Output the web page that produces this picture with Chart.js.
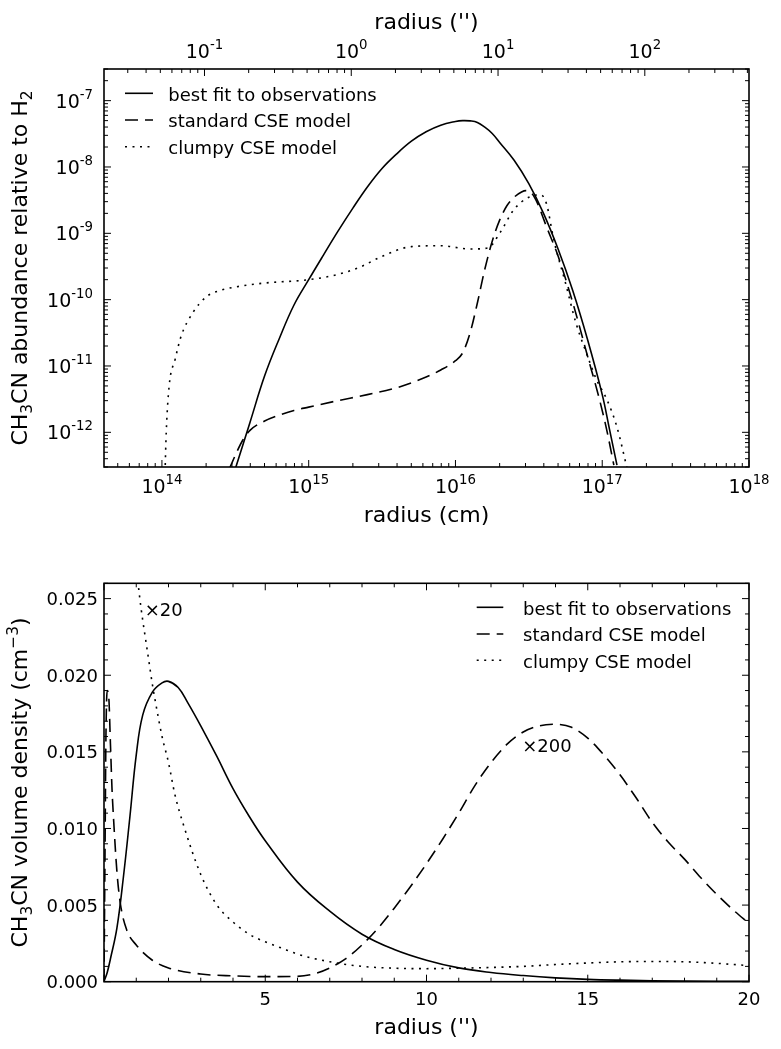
<!DOCTYPE html>
<html><head><meta charset="utf-8">
<script src="https://cdn.jsdelivr.net/npm/chart.js@4.4.1/dist/chart.umd.min.js"></script>
<style>
html,body{margin:0;padding:0;background:#fff;}
#wrap{position:relative;width:781px;height:1049px;background:#fff;}
canvas{position:absolute;left:0;}
</style></head><body>
<div id="wrap">
<canvas id="c1" width="781" height="540" style="top:0px"></canvas>
<canvas id="c2" width="781" height="509" style="top:540px"></canvas>
</div>
<script>
// ---------------- DATA ----------------
// Top panel: CH3CN abundance relative to H2 vs radius (cm)
const fitRadiusCm = [3.16e14, 3.98e14, 5.01e14, 6.31e14, 7.94e14, 1e15, 1.26e15, 1.58e15, 2.0e15, 2.51e15, 3.16e15, 3.98e15, 5.01e15, 6.31e15, 7.94e15, 1e16, 1.12e16, 1.26e16, 1.41e16, 1.58e16, 1.78e16, 2.0e16, 2.51e16, 3.16e16, 3.98e16, 5.01e16, 6.31e16, 7.94e16, 1e17, 1.12e17, 1.26e17];
const fitAbundance = [2.8e-13, 1.41e-12, 7.1e-12, 2.6e-11, 8.3e-11, 2.0e-10, 4.7e-10, 1.07e-9, 2.4e-9, 5.0e-9, 9.5e-9, 1.58e-8, 2.45e-8, 3.4e-8, 4.27e-8, 4.85e-8, 5.0e-8, 4.95e-8, 4.7e-8, 4.0e-8, 3.2e-8, 2.34e-8, 1.26e-8, 5.6e-9, 2.0e-9, 5.75e-10, 1.35e-10, 2.5e-11, 3.7e-12, 1.12e-12, 3.2e-13];

const stdRadiusCm = [2.88e14, 3.16e14, 3.55e14, 3.98e14, 5.01e14, 6.31e14, 7.94e14, 1e15, 1.58e15, 2.51e15, 3.98e15, 6.31e15, 7.94e15, 1e16, 1.12e16, 1.26e16, 1.41e16, 1.58e16, 1.78e16, 2.0e16, 2.24e16, 2.51e16, 2.82e16, 3.02e16, 3.31e16, 3.63e16, 4.17e16, 5.01e16, 6.31e16, 7.94e16, 9.55e16, 1.07e17, 1.2e17];
const stdAbundance = [2.8e-13, 4.5e-13, 7.6e-13, 1.07e-12, 1.48e-12, 1.82e-12, 2.14e-12, 2.4e-12, 3.0e-12, 3.7e-12, 4.7e-12, 6.8e-12, 8.7e-12, 1.2e-11, 1.58e-11, 3.2e-11, 8.9e-11, 2.8e-10, 7.6e-10, 1.58e-9, 2.6e-9, 3.5e-9, 4.2e-9, 4.4e-9, 4.0e-9, 2.8e-9, 1.26e-9, 4.5e-10, 8.9e-11, 1.41e-11, 3.2e-12, 1.12e-12, 3.2e-13];

const clumpyRadiusCm = [1.05e14, 1.07e14, 1.12e14, 1.23e14, 1.35e14, 1.62e14, 2.0e14, 2.51e14, 3.16e14, 5.01e14, 1e15, 1.58e15, 2.24e15, 3.16e15, 5.01e15, 7.94e15, 1.26e16, 1.66e16, 2.0e16, 2.51e16, 3.16e16, 3.8e16, 4.17e16, 4.68e16, 5.62e16, 6.61e16, 7.94e16, 9.12e16, 1.07e17, 1.26e17, 1.48e17];
const clumpyAbundance = [2.5e-13, 1e-12, 5.0e-12, 1.26e-11, 2.8e-11, 6.3e-11, 1.1e-10, 1.38e-10, 1.55e-10, 1.78e-10, 2.0e-10, 2.4e-10, 3.1e-10, 4.5e-10, 6.3e-10, 6.5e-10, 5.8e-10, 6.0e-10, 1.0e-9, 2.3e-9, 3.5e-9, 3.8e-9, 2.8e-9, 7.9e-10, 1.78e-10, 4.5e-11, 1.41e-11, 6.3e-12, 3.2e-12, 1.2e-12, 2.8e-13];

// Bottom panel: CH3CN volume density (cm^-3) vs radius (arcsec)
const fitArcsec = [0, 0.1, 0.2, 0.4, 0.6, 0.8, 1.0, 1.2, 1.5, 1.8, 2.0, 2.3, 2.6, 3.0, 3.5, 4.0, 4.5, 5.0, 6.0, 7.0, 8.0, 9.0, 10, 11, 12, 13, 14, 15, 16, 18, 20];
const fitDensity = [0, 0.0006, 0.0015, 0.0035, 0.0068, 0.0107, 0.0148, 0.0174, 0.0189, 0.0195, 0.0196, 0.0192, 0.0182, 0.0167, 0.0147, 0.0126, 0.0108, 0.0092, 0.0065, 0.0046, 0.0031, 0.0021, 0.0014, 0.0009, 0.0006, 0.0004, 0.00025, 0.00015, 0.0001, 0.00004, 0.00002];

const stdArcsec = [0, 0.03, 0.06, 0.1, 0.15, 0.2, 0.25, 0.3, 0.4, 0.5, 0.7, 1.0, 1.5, 2.0, 3.0, 4.0, 5.0, 6.0, 6.5, 7.0, 7.5, 8.0, 8.5, 9.0, 9.5, 10, 10.5, 11, 11.5, 12, 12.5, 13, 13.5, 14, 14.5, 15, 15.5, 16, 16.5, 17, 17.5, 18, 18.5, 19, 19.5, 20];
const stdDensity = [0, 0.008, 0.016, 0.019, 0.0185, 0.0155, 0.0125, 0.0105, 0.0072, 0.0052, 0.0034, 0.0024, 0.0014, 0.0009, 0.0005, 0.00038, 0.00033, 0.00035, 0.0005, 0.0009, 0.0015, 0.0024, 0.0035, 0.0048, 0.0062, 0.0077, 0.0093, 0.0110, 0.0128, 0.0143, 0.0155, 0.0163, 0.0167, 0.0168, 0.0166, 0.0159, 0.0148, 0.0135, 0.0120, 0.0104, 0.0091, 0.0080, 0.0068, 0.0057, 0.0047, 0.0038];

const clumpyArcsec = [0.8, 0.9, 1.0, 1.1, 1.2, 1.3, 1.4, 1.5, 1.6, 1.8, 2.0, 2.2, 2.5, 3.0, 3.5, 4.0, 4.5, 5.0, 5.5, 6.0, 7.0, 8.0, 9.0, 10, 11, 12, 13, 14, 15, 16, 17, 18, 19, 20];
const clumpyDensity = [0.034, 0.030, 0.0272, 0.0252, 0.0236, 0.0222, 0.0208, 0.0194, 0.0182, 0.0160, 0.0143, 0.0122, 0.0100, 0.0070, 0.0050, 0.0039, 0.0031, 0.0026, 0.0022, 0.0018, 0.0013, 0.0010, 0.00088, 0.00085, 0.00088, 0.00093, 0.0010, 0.00112, 0.00122, 0.0013, 0.00132, 0.0013, 0.0012, 0.00105];

// Series names and tick labels
const seriesNames = ['best fit to observations', 'standard CSE model', 'clumpy CSE model'];
const cmTickExponents = ['14', '15', '16', '17', '18'];
const arcsecLogTickExponents = ['-1', '0', '1', '2'];
const abundanceTickExponents = ['-12', '-11', '-10', '-9', '-8', '-7'];
const arcsecLinearTicks = [5, 10, 15, 20];
const densityTicks = [0, 0.005, 0.010, 0.015, 0.020, 0.025];
const densityTickLabels = ['0.000', '0.005', '0.010', '0.015', '0.020', '0.025'];
const annotations = [{text: '\u00d720', x: 1.26, y: 0.0243}, {text: '\u00d7200', x: 12.97, y: 0.01543}];

// conversion between cm and arcsec used by the top axis
const CM_PER_ARCSEC = 1.95e15;

// ---------------- STYLE ----------------
const FONT = '"DejaVu Sans", "Liberation Sans", sans-serif';
const DASH = [13, 7];
const DOT = [2, 5.5];
const STYLES = [[], DASH, DOT];

function pairs(xs, ys) { return xs.map((x, i) => ({x: x, y: ys[i]})); }

function makeDatasets(list) {
  return list.map((d, i) => {
    const ds = {
      label: seriesNames[i], data: pairs(d[0], d[1]),
      borderColor: '#000', borderWidth: 1.6, borderDash: STYLES[i],
      pointRadius: 0, fill: false
    };
    if (i === 0) { ds.tension = 0.4; ds.cubicInterpolationMode = 'default'; }
    else { ds.cubicInterpolationMode = 'monotone'; }
    return ds;
  });
}

function logTickValues(min, max) {
  const maj = [], mnr = [];
  for (let n = Math.floor(Math.log10(min)) - 1; n <= Math.ceil(Math.log10(max)); n++) {
    for (let k = 1; k <= 9; k++) {
      const v = k * Math.pow(10, n);
      if (v >= min * 0.9999 && v <= max * 1.0001) (k === 1 ? maj : mnr).push(v);
    }
  }
  return {maj, mnr};
}

function powLabel(ctx, exp, x, y, align, size) {
  ctx.save();
  ctx.fillStyle = '#000'; ctx.textAlign = 'left'; ctx.textBaseline = 'alphabetic';
  ctx.font = size + 'px ' + FONT;
  const wb = ctx.measureText('10').width;
  const ss = size * 0.7;
  ctx.font = ss + 'px ' + FONT;
  const we = ctx.measureText(exp).width;
  const w = wb + we;
  const x0 = align === 'center' ? x - w / 2 : x - w;
  ctx.font = size + 'px ' + FONT;
  ctx.fillText('10', x0, y);
  ctx.font = ss + 'px ' + FONT;
  ctx.fillText(exp, x0 + wb, y - 9);
  ctx.restore();
}

function drawRich(ctx, segs, px, py, size, rotate) {
  ctx.save();
  ctx.translate(px, py);
  if (rotate) ctx.rotate(-Math.PI / 2);
  ctx.fillStyle = '#000'; ctx.textAlign = 'left'; ctx.textBaseline = 'alphabetic';
  let w = 0;
  segs.forEach(s => { ctx.font = (size * (s.k || 1)) + 'px ' + FONT; w += ctx.measureText(s.t).width; });
  let x = -w / 2;
  segs.forEach(s => {
    ctx.font = (size * (s.k || 1)) + 'px ' + FONT;
    ctx.fillText(s.t, x, (s.dy || 0) * size);
    x += ctx.measureText(s.t).width;
  });
  ctx.restore();
}

function text(ctx, t, x, y, size, align) {
  ctx.save();
  ctx.fillStyle = '#000'; ctx.font = size + 'px ' + FONT;
  ctx.textAlign = align || 'left'; ctx.textBaseline = 'alphabetic';
  ctx.fillText(t, x, y);
  ctx.restore();
}

function drawLegend(ctx, x0, x1, tx, ys) {
  ctx.save();
  ctx.strokeStyle = '#000'; ctx.lineWidth = 1.6;
  ys.forEach((y, i) => {
    ctx.setLineDash(STYLES[i]);
    ctx.beginPath(); ctx.moveTo(x0, y); ctx.lineTo(x1, y); ctx.stroke();
    ctx.setLineDash([]);
    text(ctx, seriesNames[i], tx, y + 7.4, 18, 'left');
  });
  ctx.restore();
}

function frameAndTicks(ctx, a, xTicks, topTicks, yTicks) {
  ctx.save();
  ctx.strokeStyle = '#000';
  ctx.lineWidth = 1;
  const MAJ = 7, MIN = 4;
  xTicks.forEach(t => {
    ctx.beginPath(); ctx.moveTo(t.p, a.bottom); ctx.lineTo(t.p, a.bottom - (t.major ? MAJ : MIN)); ctx.stroke();
  });
  topTicks.forEach(t => {
    ctx.beginPath(); ctx.moveTo(t.p, a.top); ctx.lineTo(t.p, a.top + (t.major ? MAJ : MIN)); ctx.stroke();
  });
  yTicks.forEach(t => {
    ctx.beginPath(); ctx.moveTo(a.left, t.p); ctx.lineTo(a.left + (t.major ? MAJ : MIN), t.p); ctx.stroke();
    ctx.beginPath(); ctx.moveTo(a.right, t.p); ctx.lineTo(a.right - (t.major ? MAJ : MIN), t.p); ctx.stroke();
  });
  ctx.lineWidth = 1.6;
  ctx.strokeRect(a.left, a.top, a.right - a.left, a.bottom - a.top);
  ctx.restore();
}

// ---------------- TOP CHART ----------------
const topDeco = {
  id: 'topDeco',
  afterDatasetsDraw(chart) {
    const ctx = chart.ctx, a = chart.chartArea;
    const sx = chart.scales.x, sx2 = chart.scales.x2, sy = chart.scales.y;
    const lx = logTickValues(sx.min, sx.max);
    const lx2 = logTickValues(sx2.min, sx2.max);
    const ly = logTickValues(sy.min, sy.max);
    const mk = (s, l) => l.maj.map(v => ({p: s.getPixelForValue(v), major: true}))
      .concat(l.mnr.map(v => ({p: s.getPixelForValue(v), major: false})));
    frameAndTicks(ctx, a, mk(sx, lx), mk(sx2, lx2), mk(sy, ly));
    cmTickExponents.forEach(e => powLabel(ctx, e, sx.getPixelForValue(Math.pow(10, +e)), 492.6, 'center', 19));
    arcsecLogTickExponents.forEach(e => powLabel(ctx, e, sx2.getPixelForValue(Math.pow(10, +e)), 57.5, 'center', 19));
    abundanceTickExponents.forEach(e => powLabel(ctx, e, 93, sy.getPixelForValue(Math.pow(10, +e)) + 6.9, 'right', 19));
    const cx = (a.left + a.right) / 2;
    text(ctx, "radius ('')", cx, 29, 22, 'center');
    text(ctx, 'radius (cm)', cx, 522, 22, 'center');
    drawRich(ctx, [{t: 'CH'}, {t: '3', k: 0.7, dy: 0.22}, {t: 'CN abundance relative to H'}, {t: '2', k: 0.7, dy: 0.22}],
      27, (a.top + a.bottom) / 2, 22, true);
    drawLegend(ctx, 125, 153, 168.3, [93.3, 120, 146.7]);
  }
};

new Chart(document.getElementById('c1'), {
  type: 'line',
  data: {datasets: makeDatasets([[fitRadiusCm, fitAbundance], [stdRadiusCm, stdAbundance], [clumpyRadiusCm, clumpyAbundance]])},
  options: {
    responsive: false, animation: false, devicePixelRatio: 1,
    layout: {padding: {left: 104, right: 32, top: 69, bottom: 73}},
    plugins: {legend: {display: false}, tooltip: {enabled: false}},
    scales: {
      x: {type: 'logarithmic', min: 4.03e13, max: 1e18, bounds: 'data', display: false},
      x2: {type: 'logarithmic', axis: 'x', position: 'top', min: 4.03e13 / CM_PER_ARCSEC, max: 1e18 / CM_PER_ARCSEC, bounds: 'data', display: false},
      y: {type: 'logarithmic', min: 3e-13, max: 3e-7, bounds: 'data', display: false}
    }
  },
  plugins: [topDeco]
});

// ---------------- BOTTOM CHART ----------------
const botDeco = {
  id: 'botDeco',
  afterDatasetsDraw(chart) {
    const ctx = chart.ctx, a = chart.chartArea;
    const sx = chart.scales.x, sy = chart.scales.y;
    const xt = [], yt = [];
    for (let v = 0; v <= 20; v++) xt.push({p: sx.getPixelForValue(v), major: v % 5 === 0});
    for (let i = 0; i <= 26; i++) yt.push({p: sy.getPixelForValue(i / 1000), major: i % 5 === 0});
    frameAndTicks(ctx, a, xt, xt, yt);
    arcsecLinearTicks.forEach(v => text(ctx, String(v), sx.getPixelForValue(v), 465, 18, 'center'));
    densityTicks.forEach((v, i) => text(ctx, densityTickLabels[i], 98, sy.getPixelForValue(v) + 6.6, 18, 'right'));
    annotations.forEach(an => text(ctx, an.text, sx.getPixelForValue(an.x), sy.getPixelForValue(an.y) + 6.6, 18, 'left'));
    const cx = (a.left + a.right) / 2;
    text(ctx, "radius ('')", cx, 494, 22, 'center');
    drawRich(ctx, [{t: 'CH'}, {t: '3', k: 0.7, dy: 0.22}, {t: 'CN volume density (cm'}, {t: '\u22123', k: 0.7, dy: -0.42}, {t: ')'}],
      27, (a.top + a.bottom) / 2, 22, true);
    drawLegend(ctx, 476.7, 503.3, 523, [67.3, 94, 120.3]);
  }
};

new Chart(document.getElementById('c2'), {
  type: 'line',
  data: {datasets: makeDatasets([[fitArcsec, fitDensity], [stdArcsec, stdDensity], [clumpyArcsec, clumpyDensity]])},
  options: {
    responsive: false, animation: false, devicePixelRatio: 1,
    layout: {padding: {left: 104, right: 32, top: 43.3, bottom: 67.3}},
    plugins: {legend: {display: false}, tooltip: {enabled: false}},
    scales: {
      x: {type: 'linear', min: 0, max: 20, bounds: 'data', display: false},
      y: {type: 'linear', min: 0, max: 0.026, bounds: 'data', display: false}
    }
  },
  plugins: [botDeco]
});
</script>
</body></html>
